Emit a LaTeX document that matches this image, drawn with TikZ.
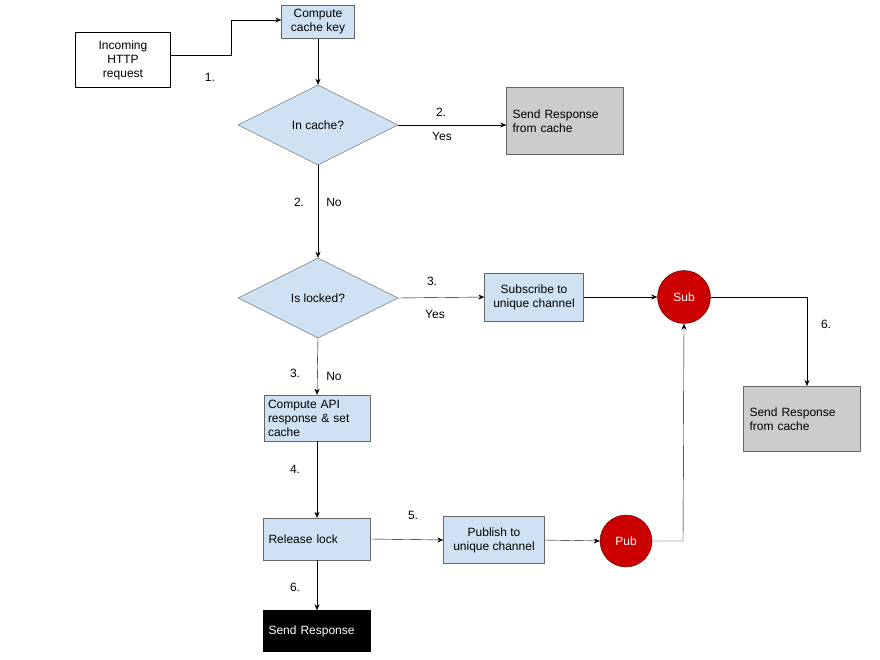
\documentclass[tikz,border=0pt]{standalone}
\usepackage{fontspec}
\setmainfont{Liberation Sans}
\usetikzlibrary{shapes.geometric,arrows.meta}
\definecolor{lb}{HTML}{CFE2F3}
\definecolor{gr}{HTML}{CCCCCC}
\definecolor{rd}{HTML}{CC0000}
\begin{document}
\begin{tikzpicture}[x=1pt,y=-1pt,
  every node/.style={font=\fontsize{12}{14}\selectfont},
  bluebox/.style={draw=black!60,fill=lb,align=center,inner sep=0pt},
  greybox/.style={draw=black!60,fill=gr,align=left,inner sep=0pt},
  dia/.style={diamond,draw=black!60,fill=lb,aspect=2,inner sep=0pt,minimum width=160pt,minimum height=80pt},
  circ/.style={circle,draw=black!70!red,fill=rd,text=white,minimum size=53pt,inner sep=0pt},
  arr/.style={-{Stealth[length=6pt,width=5pt]},black},
  lbl/.style={inner sep=0pt}]
\useasboundingbox (0,0) rectangle (880,660);
\node[draw=black,align=center,minimum width=95pt,minimum height=55pt] (inc) at (123,60) {Incoming\\HTTP\\request};
\node[bluebox,minimum width=73pt,minimum height=33pt] (key) at (318,22) {Compute\\cache key};
\node[dia] (d1) at (318,125) {In cache?};
\node[greybox,minimum width=117pt,minimum height=67pt,text width=105pt] (r1) at (565,121) {Send Response\\from cache};
\node[dia] (d2) at (318,298) {Is locked?};
\node[bluebox,minimum width=99pt,minimum height=48pt] (sub) at (534,297) {Subscribe to\\unique channel};
\node[circ] (sc) at (684,297) {Sub};
\node[greybox,minimum width=117pt,minimum height=65pt,text width=105pt] (r2) at (802,419) {Send Response\\from cache};
\node[bluebox,align=left,minimum width=106pt,minimum height=46pt,text width=98pt] (api) at (317,418) {Compute API\\response \& set\\cache};
\node[bluebox,align=left,minimum width=107pt,minimum height=42pt,text width=97pt] (rel) at (317,539) {Release lock};
\node[bluebox,minimum width=101pt,minimum height=47pt] (pub) at (494,540) {Publish to\\unique channel};
\node[circ,minimum size=52pt] (pc) at (626,541) {Pub};
\node[draw=black,fill=black,text=white,align=left,minimum width=107pt,minimum height=41pt,text width=97pt] (sr) at (317,631) {Send Response};
\coordinate (c1) at (231,55);
\coordinate (c2) at (231,20);
\coordinate (c3) at (807,297);
\coordinate (c4) at (807,386);
\coordinate (c5) at (683,541);

\draw[arr] (inc.east |- c1) -- (c1) -- (c2) -- (key.west |- c2);
\draw[arr] (key.south) -- (d1.north);
\draw[arr] (d1.east) -- (r1.west |- d1.east);
\draw[arr] (d1.south) -- (d2.north);
\draw[arr] (d2.east) -- (sub.west);
\draw[arr] (sub.east) -- (sc.west);
\draw[arr] (sc.east) -- (c3) -- (c4);
\draw[arr] (d2.south) -- (api.north);
\draw[arr] (api.south) -- (rel.north);
\draw[arr] (rel.east) -- (pub.west);
\draw[arr] (pub.east) -- (pc.west);
\draw[arr] (pc.east) -- (c5) -- (sc.south);
\draw[arr] (rel.south) -- (sr.north);

\node[lbl] at (210,77) {1.};
\node[lbl] at (441,112) {2.};
\node[lbl] at (442,136) {Yes};
\node[lbl] at (299,202) {2.};
\node[lbl] at (334,202) {No};
\node[lbl] at (432,281) {3.};
\node[lbl] at (435,314) {Yes};
\node[lbl] at (826,324) {6.};
\node[lbl] at (295,373) {3.};
\node[lbl] at (334,376) {No};
\node[lbl] at (295,469) {4.};
\node[lbl] at (413,515) {5.};
\node[lbl] at (295,587) {6.};
\end{tikzpicture}
\end{document}
